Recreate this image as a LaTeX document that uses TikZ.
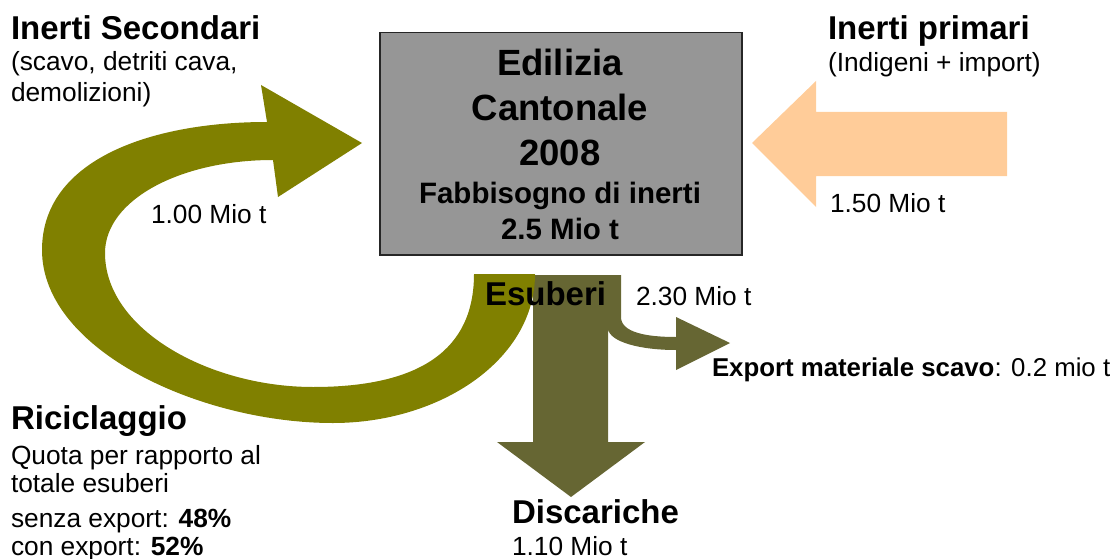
\documentclass[tikz,border=0pt]{standalone}
\usepackage{fontspec}
\setmainfont{Liberation Sans}
\definecolor{olivec}{HTML}{808000}
\definecolor{darkol}{HTML}{666633}
\definecolor{peach}{HTML}{FFCC99}
\definecolor{boxgray}{HTML}{969696}
\newcommand\fsHead{\fontsize{33}{38}\selectfont\bfseries}
\newcommand\fsBox{\fontsize{36.5}{42}\selectfont\bfseries}
\newcommand\fsBoxSmall{\fontsize{29.5}{33}\selectfont\bfseries}
\newcommand\fsTxt{\fontsize{26.3}{31}\selectfont}
\newcommand\fsExp{\fontsize{25.8}{30}\selectfont}
\begin{document}
\begin{tikzpicture}[x=1pt,y=-1pt,
  txt/.style={anchor=base west, inner sep=0pt, outer sep=0pt},
  ctxt/.style={anchor=base, inner sep=0pt, outer sep=0pt}]
\useasboundingbox (0,0) rectangle (1118,559);
% orange arrow (Inerti primari)
\fill[peach] (1007,112) -- (816,112) -- (816,81) -- (752,143) -- (816,207) -- (816,176) -- (1007,176) -- cycle;
% central box
\node[draw=black!85, line width=1.5pt, fill=boxgray, minimum width=362pt, minimum height=222pt, inner sep=0pt, anchor=north west] (box) at (379,32) {};
% esuberi / discariche / export shape
\fill[darkol] (533,275) -- (621,275) -- (621,317)
  .. controls (621,332) and (645,337) .. (676,337)
  -- (676,317) -- (730,343) -- (676,370) -- (676,350)
  .. controls (640,350) and (610,342) .. (608,329)
  -- (608,442) -- (645,442) -- (571,497) -- (497,442) -- (533,442) -- cycle;
% recycling curved arrow
\fill[olivec] (535,274)
  .. controls (535,360) and (440,423) .. (333,423)
  .. controls (200,423) and (42,350) .. (42,250)
  .. controls (42,160) and (150,122) .. (267,122)
  -- (261,85) -- (362,143) -- (278,197) -- (273,160)
  .. controls (180,160) and (105,200) .. (105,253)
  .. controls (105,330) and (210,387) .. (313,387)
  .. controls (420,387) and (474,350) .. (474,274) -- cycle;
% box text
\node[ctxt] (t1) at (560,76) {\fsBox Edilizia};
\node[ctxt] (t2) at (560,120.7) {\fsBox Cantonale};
\node[ctxt] (t3) at (560,165.7) {\fsBox 2008};
\node[ctxt] (t4) at (560,203.3) {\fsBoxSmall Fabbisogno di inerti};
\node[ctxt] (t5) at (560,239) {\fsBoxSmall 2.5 Mio t};
% left top
\node[txt] (is1) at (11,39.3) {\fsHead Inerti Secondari};
\node[txt] (is2) at (11,71) {\fsTxt (scavo, detriti cava,};
\node[txt] (is3) at (11,102) {\fsTxt demolizioni)};
% right top
\node[txt] (ip1) at (828,39.3) {\fsHead Inerti primari};
\node[txt] (ip2) at (828,72) {\fsTxt (Indigeni + import)};
\node[txt] (ip3) at (830,212) {\fsTxt 1.50 Mio t};
% flows
\node[txt] (rc0) at (151,223) {\fsTxt 1.00 Mio t};
\node[txt] (es1) at (485,305) {\fsHead Esuberi};
\node[txt] (es2) at (636,305) {\fsTxt 2.30 Mio t};
\node[txt] (ex1) at (712,376) {\fsExp\textbf{Export materiale scavo}: 0.2 mio t};
% riciclaggio
\node[txt] (rc1) at (11,429) {\fsHead Riciclaggio};
\node[txt] (rc2) at (11,464) {\fsTxt Quota per rapporto al};
\node[txt] (rc3) at (11,492) {\fsTxt totale esuberi};
\node[txt] (rc4) at (11,527) {\fsTxt senza export: \textbf{48\%}};
\node[txt] (rc5) at (11,555) {\fsTxt con export: \textbf{52\%}};
% discariche
\node[txt] (di1) at (512,523) {\fsHead Discariche};
\node[txt] (di2) at (512,555) {\fsTxt 1.10 Mio t};
\end{tikzpicture}
\end{document}
